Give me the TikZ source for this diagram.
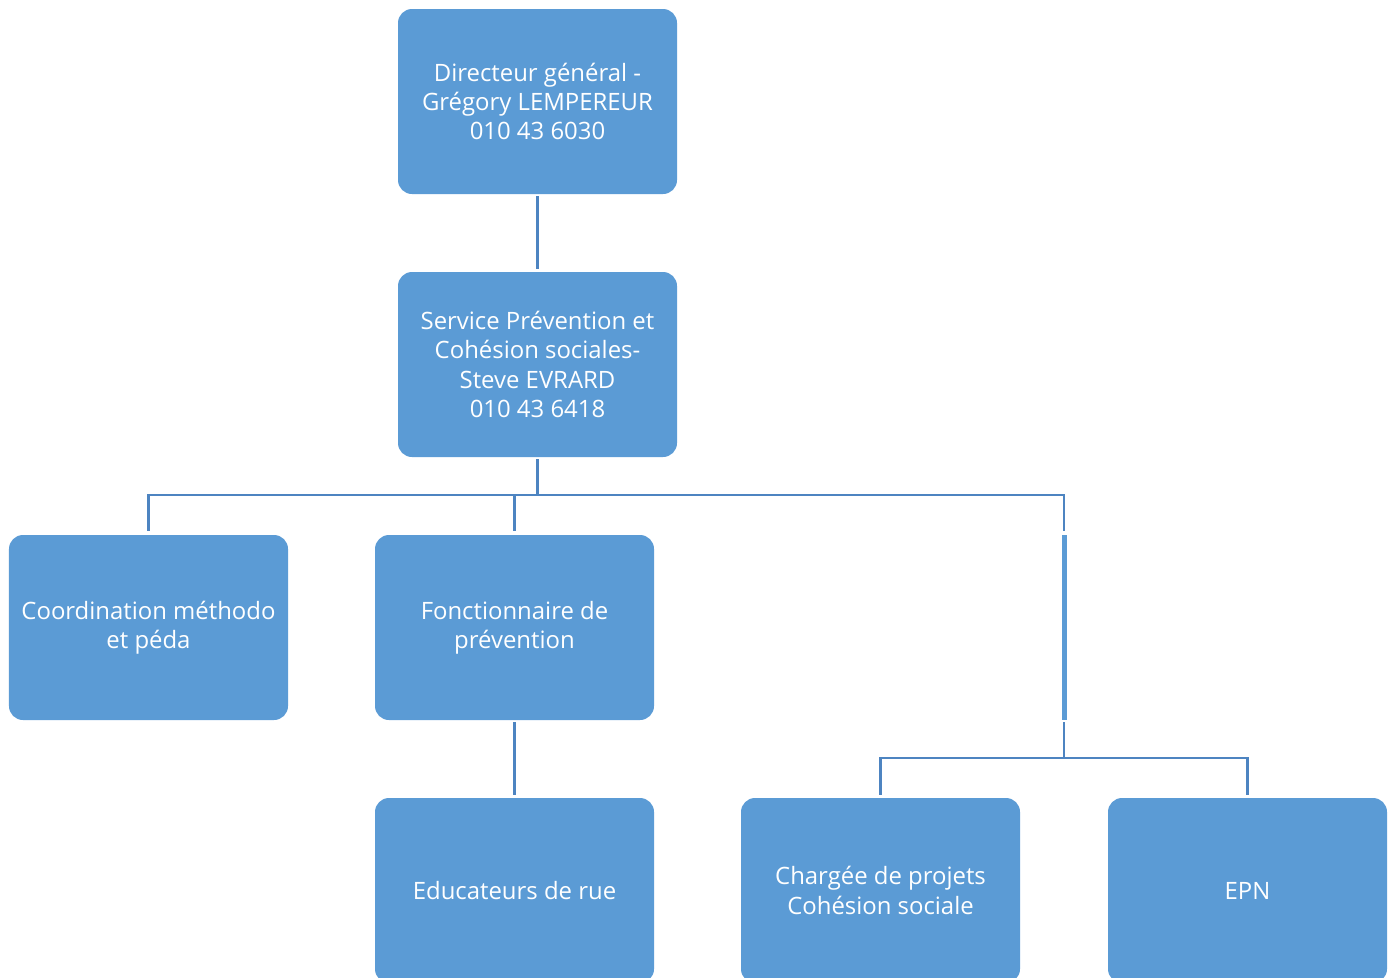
\documentclass[tikz,border=0pt]{standalone}
\usepackage{fontspec}
\setmainfont{Open Sans}
\usepackage{xcolor}
\usepackage{tikz}

\definecolor{boxblue}{HTML}{5B9BD5}
\definecolor{lineblue}{HTML}{4D84C1}

\tikzset{
  orgbox/.style={fill=boxblue, rounded corners=14bp, minimum width=279bp,
    minimum height=185bp, inner sep=0pt, text=white, align=center,
    font=\fontsize{24}{29.5}\selectfont},
  orgline/.style={draw=lineblue, line width=2.6bp},
}

\begin{document}
\begin{tikzpicture}[x=1bp,y=-1bp]
	\useasboundingbox (0,0) rectangle (1392,977);
	\node [orgbox] (dir) at (537.5,101.5) {Directeur général -\\Grégory LEMPEREUR\\010 43 6030};
	\node [orgbox] (svc) at (537.5,364.5) {Service Prévention et\\Cohésion sociales-\\Steve EVRARD\\010 43 6418};
	\node [orgbox] (coord) at (148.5,627.5) {Coordination méthodo\\et péda};
	\node [orgbox] (fonct) at (514.5,627.5) {Fonctionnaire de\\prévention};
	\node [orgbox] (educ) at (514.5,890.5) {Educateurs de rue};
	\node [orgbox] (charg) at (880.5,890.5) {Chargée de projets\\Cohésion sociale};
	\node [orgbox] (epn) at (1247.5,890.5) {EPN};
	\coordinate (bus) at (537.5,495);
	\coordinate (ghostn) at (1064,535);
	\coordinate (ghosts) at (1064,720);
	\coordinate (subbus) at (1064,758);
	% connectors
	\draw [orgline,shorten <=2bp,shorten >=3bp] (dir.south) -- (svc.north);
	\draw [orgline,shorten <=2bp] (svc.south) -- (bus);
	\draw [orgline,shorten >=4bp] (bus) -| (coord.north);
	\draw [orgline,shorten >=4bp] (bus) -| (fonct.north);
	\draw [orgline,shorten >=4bp] (bus) -| (ghostn);
	\draw [boxblue,line width=5bp] (ghostn) -- (ghosts);
	\draw [orgline,shorten <=2bp] (ghosts) -- (subbus);
	\draw [orgline,shorten >=3bp] (subbus) -| (charg.north);
	\draw [orgline,shorten >=3bp] (subbus) -| (epn.north);
	\draw [orgline,shorten <=2bp,shorten >=3bp] (fonct.south) -- (educ.north);
\end{tikzpicture}
\end{document}
